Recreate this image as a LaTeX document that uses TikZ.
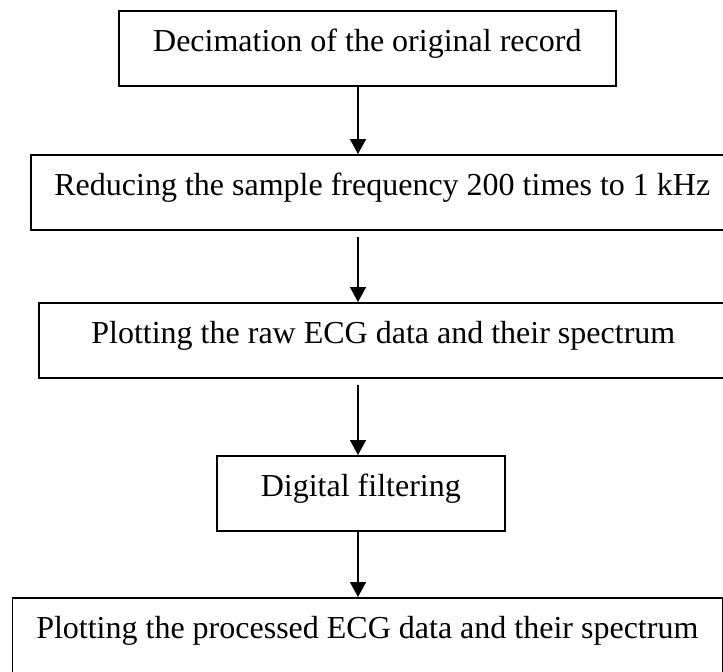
\documentclass[tikz,border=0pt]{standalone}
\usepackage{fontspec}
\setmainfont{Liberation Serif}
\usetikzlibrary{arrows.meta}

\begin{document}
\begin{tikzpicture}[x=1pt,y=-1pt, every node/.style={inner sep=0pt}]
  \def\arrx{358}

  \tikzset{
    stage/.style={draw=black, line width=1.6pt, anchor=north west, text height=41pt, text depth=34pt, font=\fontsize{32}{38}\selectfont},
    flow/.style={line width=1.6pt, -{Triangle[length=15pt,width=16pt]}}
  }

  % fixed frame, the right and bottom edges of some boxes run past it
  \path[use as bounding box] (0,0) rectangle (723,672);

  % processing stages
  \node[stage, minimum width=497pt] (decim) at (118,10) {Decimation of the original record};
  \node[stage, minimum width=703pt] (reduce) at (30,154) {Reducing the sample frequency 200 times to 1 kHz};
  \node[stage, minimum width=689pt] (rawplot) at (38,302) {Plotting the raw ECG data and their spectrum};
  \node[stage, minimum width=288pt] (filter) at (216,455) {Digital filtering};
  \node[stage, minimum width=710pt] (procplot) at (11.5,597) {Plotting the processed ECG data and their spectrum};

  % arrows all run down one column
  \coordinate (axis) at (\arrx,0);
  \draw[flow] (decim.south -| axis) -- (reduce.north -| axis);
  \draw[flow, shorten <=6pt] (reduce.south -| axis) -- (rawplot.north -| axis);
  \draw[flow, shorten <=6pt] (rawplot.south -| axis) -- (filter.north -| axis);
  \draw[flow] (filter.south -| axis) -- (procplot.north -| axis);

\end{tikzpicture}
\end{document}
